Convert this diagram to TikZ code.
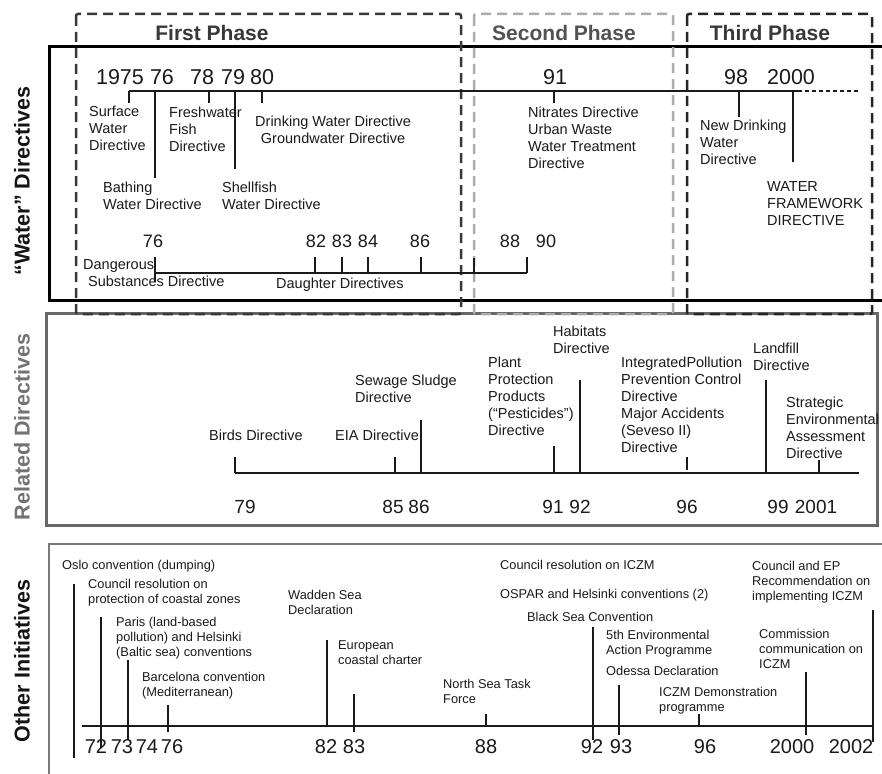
\documentclass[tikz,border=0pt]{standalone}
\usepackage{fontspec}
\setmainfont{Liberation Sans}
\newcommand\labfont{\fontsize{14.5}{17}\selectfont}
\newcommand\oifont{\fontsize{12.8}{15}\selectfont}
\definecolor{inkc}{HTML}{1A1A1A}
\definecolor{phaseone}{HTML}{383838}
\definecolor{phasetwo}{HTML}{ABABAB}
\definecolor{phasethree}{HTML}{262626}
\definecolor{relgray}{HTML}{686868}
\definecolor{othgray}{HTML}{7A7A7A}
\begin{document}
\begin{tikzpicture}[x=1pt,y=-1pt,
  lab/.style={font=\labfont, text=inkc, align=left, anchor=north west, inner sep=0pt, execute at begin node=\strut},
  olab/.style={font=\oifont, text=inkc, align=left, anchor=north west, inner sep=0pt, execute at begin node=\strut},
  yrbig/.style={font=\fontsize{21.5}{24}\selectfont, text=inkc, anchor=base, inner sep=0pt},
  yrmid/.style={font=\fontsize{18}{20}\selectfont, text=inkc, anchor=base, inner sep=0pt},
  yrrel/.style={font=\fontsize{19}{21}\selectfont, text=inkc, anchor=base, inner sep=0pt},
  yroth/.style={font=\fontsize{20}{22}\selectfont, text=inkc, anchor=base, inner sep=0pt},
  axis/.style={draw=inkc, line width=1.4pt},
  tk/.style={draw=inkc, line width=1.4pt},
  side/.style={font=\fontsize{21.5}{24}\selectfont\bfseries, rotate=90, inner sep=0pt},
  phasetitle/.style={font=\fontsize{21}{24}\selectfont\bfseries, anchor=base, inner sep=0pt},
  phasebox/.style={line width=2.5pt, dash pattern=on 10pt off 6pt, rounded corners=2pt}
]
\useasboundingbox (0,0) rectangle (882,773);
\fill[white] (0,0) rectangle (882,773);

% ---------- panel frames ----------
\draw[line width=3pt, black] (49,47) rectangle (900,300);
\draw[line width=3pt, relgray] (46,313) rectangle (877,525);
\draw[line width=1.6pt, othgray] (49,544) rectangle (900,800);

% ---------- phase frames ----------
\draw[phasebox, phaseone] (76,14) rectangle (461,314);
\draw[phasebox, phasetwo] (474,14) rectangle (673,314);
\draw[phasebox, phasethree] (687,14) rectangle (872,314);

\node[phasetitle, text=phaseone] (p1) at (212,40.5) {First Phase};
\node[phasetitle, text=black!68] (p2) at (564,40.5) {Second Phase};
\node[phasetitle, text=phaseone] (p3) at (770,40.5) {Third Phase};

% ---------- side headings ----------
\node[side, text=black!92] (hw) at (22,181) {“Water” Directives};
\node[side, text=black!55] (hr) at (22,427) {Related Directives};
\node[side, text=black!92] (ho) at (22,661) {Other Initiatives};

% ---------- water directives: main line ----------
\coordinate (wA) at (129,91);
\coordinate (wB) at (798,91);
\coordinate (wC) at (860,91);
\draw[axis] (wA) -- (wB);
\draw[draw=inkc, line width=1.4pt, dash pattern=on 4pt off 3pt] (wB) -- (wC);

\draw[tk] (129,91) -- (129,103);
\draw[tk] (155,91) -- (155,178);
\draw[tk] (209,91) -- (209,103);
\draw[tk] (235,91) -- (235,169);
\draw[tk] (262,91) -- (262,103);
\draw[tk] (554,91) -- (554,103);
\draw[tk] (739,91) -- (739,117);
\draw[tk] (793,91) -- (793,162);

\node[yrbig] (y75) at (120,84.7) {1975};
\node[yrbig] (y76) at (162,84.7) {76};
\node[yrbig] (y78) at (202,84.7) {78};
\node[yrbig] (y79) at (233,84.7) {79};
\node[yrbig] (y80) at (262,84.7) {80};
\node[yrbig] (y91) at (555,84.7) {91};
\node[yrbig] (y98) at (736,84.7) {98};
\node[yrbig] (y00) at (791,84.7) {2000};

\node[lab] (surf) at (89,106.3) {Surface\\Water\\Directive};
\node[lab] (fresh) at (169,106.3) {Freshwater\\Fish\\Directive};
\node[lab, align=center] (drink) at (255,115.3) {Drinking Water Directive\\Groundwater Directive};
\node[lab] (bath) at (103,181.3) {Bathing\\Water Directive};
\node[lab] (shell) at (222,181.3) {Shellfish\\Water Directive};
\node[lab] (nitr) at (528,106.3) {Nitrates Directive\\Urban Waste\\Water Treatment\\Directive};
\node[lab] (newdw) at (700,119.3) {New Drinking\\Water\\Directive};
\node[lab] (wfd) at (767,181.3) {WATER\\FRAMEWORK\\DIRECTIVE};

% ---------- water directives: daughter line ----------
\coordinate (dA) at (155,273);
\coordinate (dB) at (527,273);
\draw[axis] (dA) -- (dB);
\draw[tk] (155,257) -- (155,282);
\draw[tk] (315,257) -- (315,273);
\draw[tk] (342,257) -- (342,273);
\draw[tk] (368,257) -- (368,273);
\draw[tk] (421,257) -- (421,273);
\draw[tk] (474,258) -- (474,273);
\draw[tk] (527,257) -- (527,273);

\node[yrmid] (d76) at (153,247.4) {76};
\node[yrmid] (d82) at (316,247.4) {82};
\node[yrmid] (d83) at (342,247.4) {83};
\node[yrmid] (d84) at (368,247.4) {84};
\node[yrmid] (d86) at (420,247.4) {86};
\node[yrmid] (d88) at (510,247.4) {88};
\node[yrmid] (d90) at (546,247.4) {90};

\node[lab] (dang) at (83,259.3) {Dangerous\\\hspace*{5pt}Substances Directive};
\node[lab] (daught) at (276,276.3) {Daughter Directives};

% ---------- related directives ----------
\coordinate (rA) at (235,473);
\coordinate (rB) at (859,473);
\draw[axis] (rA) -- (rB);
\draw[tk] (235,457) -- (235,473);
\draw[tk] (395,457) -- (395,473);
\draw[tk] (421,420) -- (421,473);
\draw[tk] (554,446) -- (554,473);
\draw[tk] (580,380) -- (580,473);
\draw[tk] (687,457) -- (687,470);
\draw[tk] (766,380) -- (766,473);
\draw[tk] (819,460) -- (819,473);

\node[yrrel] (r79) at (245,513.8) {79};
\node[yrrel] (r85) at (393,513.8) {85};
\node[yrrel] (r86) at (419,513.8) {86};
\node[yrrel] (r91) at (553,513.8) {91};
\node[yrrel] (r92) at (580,513.8) {92};
\node[yrrel] (r96) at (687,513.8) {96};
\node[yrrel] (r99) at (778,513.8) {99};
\node[yrrel] (r01) at (816,513.8) {2001};

\node[lab] (sludge) at (355,374.3) {Sewage Sludge\\Directive};
\node[lab] (birds) at (209,428.3) {Birds Directive};
\node[lab] (eia) at (335,428.3) {EIA Directive};
\node[lab] (ppp) at (488,356.3) {Plant\\Protection\\Products\\(“Pesticides”)\\Directive};
\node[lab] (habit) at (553,325.3) {Habitats\\Directive};
\node[lab] (ippc) at (621,356.3) {IntegratedPollution\\Prevention Control\\Directive\\Major Accidents\\(Seveso II)\\Directive};
\node[lab] (landf) at (753,342.3) {Landfill\\Directive};
\node[lab] (sead) at (786,396.3) {Strategic\\Environmental\\Assessment\\Directive};

% ---------- other initiatives ----------
\coordinate (oA) at (82,726);
\coordinate (oB) at (873,726);
\draw[axis] (oA) -- (oB);
\draw[tk] (74,584) -- (74,758);
\draw[tk] (101,617) -- (101,748);
\draw[tk] (128,660) -- (128,740);
\draw[tk] (168,705) -- (168,732);
\draw[tk] (327,640) -- (327,726);
\draw[tk] (354,694) -- (354,732);
\draw[tk] (486,714) -- (486,726);
\draw[tk] (593,627) -- (593,740);
\draw[tk] (619,685) -- (619,735);
\draw[tk] (699,714) -- (699,726);
\draw[tk] (806,672) -- (806,735);
\draw[tk] (873,610) -- (873,742);

\node[yroth] (o72) at (96,753) {72};
\node[yroth] (o73) at (122,753) {73};
\node[yroth] (o74) at (147,753) {74};
\node[yroth] (o76) at (172,753) {76};
\node[yroth] (o82) at (326,753) {82};
\node[yroth] (o83) at (354,753) {83};
\node[yroth] (o88) at (486,753) {88};
\node[yroth] (o92) at (592,753) {92};
\node[yroth] (o93) at (621,753) {93};
\node[yroth] (o96) at (705,753) {96};
\node[yroth] (o00) at (792,753) {2000};
\node[yroth] (o02) at (851,753) {2002};

\node[olab] (oslo) at (62,559.1) {Oslo convention (dumping)};
\node[olab] (counc) at (88,579.1) {Council resolution on\\protection of coastal zones};
\node[olab] (paris) at (116,617.1) {Paris (land-based\\pollution) and Helsinki\\(Baltic sea) conventions};
\node[olab] (barc) at (142,672.1) {Barcelona convention\\(Mediterranean)};
\node[olab] (wadden) at (288,590.1) {Wadden Sea\\Declaration};
\node[olab] (euro) at (338,640.1) {European\\coastal charter};
\node[olab] (nstf) at (443,679.1) {North Sea Task\\Force};
\node[olab] (iczmres) at (500,559.1) {Council resolution on ICZM};
\node[olab] (ospar) at (500,588.1) {OSPAR and Helsinki conventions (2)};
\node[olab] (bsea) at (527,611.1) {Black Sea Convention};
\node[olab] (eap) at (606,630.1) {5th Environmental\\Action Programme};
\node[olab] (odessa) at (606,665.1) {Odessa Declaration};
\node[olab] (demo) at (659,687.1) {ICZM Demonstration\\programme};
\node[olab] (cep) at (752,561.1) {Council and EP\\Recommendation on\\implementing ICZM};
\node[olab] (comm) at (759,629.1) {Commission\\communication on\\ICZM};
\end{tikzpicture}
\end{document}
